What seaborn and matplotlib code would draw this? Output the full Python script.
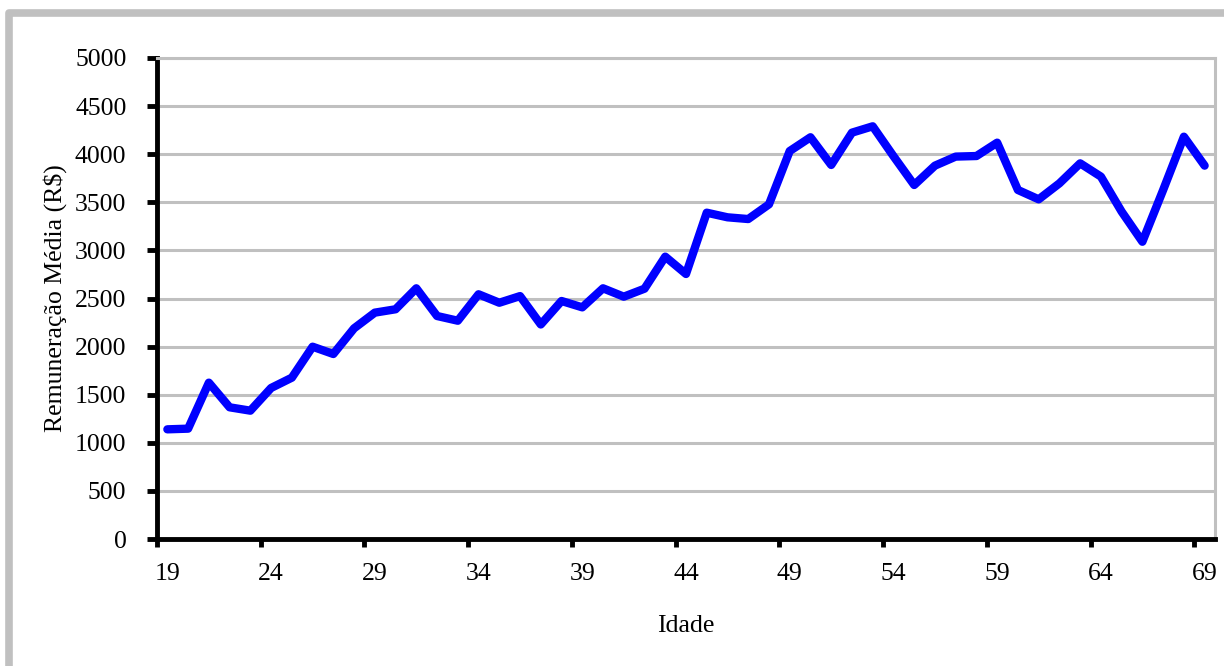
import seaborn as sns
import matplotlib.pyplot as plt
from matplotlib.patches import Rectangle
import numpy as np

idade = list(range(19, 70))
remuneracao = [1140, 1147, 1625, 1369, 1334, 1570, 1677, 1999, 1923, 2190,
               2353, 2388, 2606, 2318, 2269, 2544, 2456, 2525, 2230, 2474,
               2408, 2606, 2519, 2602, 2935, 2755, 3392, 3344, 3326, 3479,
               4033, 4176, 3888, 4224, 4290, 3980, 3680, 3881, 3975, 3981,
               4120, 3628, 3531, 3697, 3905, 3767, 3403, 3090, 3628, 4182,
               3881]
x_labels = [19, 24, 29, 34, 39, 44, 49, 54, 59, 64, 69]
y_ticks = list(range(0, 5001, 500))

sns.set_style("white")
plt.rcParams['font.family'] = ['Liberation Serif', 'DejaVu Serif']
plt.rcParams['text.color'] = 'black'
plt.rcParams['axes.labelcolor'] = 'black'
plt.rcParams['xtick.color'] = 'black'
plt.rcParams['ytick.color'] = 'black'
FS = 18.5
GRAY = "#c0c0c0"

fig = plt.figure(figsize=(12.24, 6.66), dpi=100)

# outer chart frame (cut off at right and bottom)
fig.patches.append(Rectangle((8.5 / 1224, -0.1), 1.2, 1 - 12.5 / 666 + 0.1,
                             transform=fig.transFigure, fill=False,
                             edgecolor=GRAY, lw=5.5, joinstyle='round'))

ax = fig.add_axes([157 / 1224, 1 - 539 / 666, (1215 - 157) / 1224, (539 - 58) / 666])
sns.lineplot(x=idade, y=remuneracao, ax=ax, color="#0000ff", lw=6,
             solid_capstyle='round', solid_joinstyle='round')

ax.set_xlim(18.5, 69.5)
ax.set_ylim(0, 5000)

# category-style axis: tick marks between categories, labels on categories
ax.set_xticks(np.arange(18.5, 69, 5))
ax.set_xticklabels([])
ax.set_xticks(x_labels, minor=True)
ax.set_xticklabels([str(v) for v in x_labels], minor=True, fontsize=FS)
ax.tick_params(axis='x', which='major', bottom=True, direction='out',
               length=6, width=3.5, color='black')
ax.tick_params(axis='x', which='minor', bottom=True, length=0, pad=17)

ax.set_yticks(y_ticks)
ax.set_yticklabels([str(v) for v in y_ticks], fontsize=FS)
ax.tick_params(axis='y', left=True, direction='out', length=7, width=3.5,
               color='black', pad=15)

ax.yaxis.grid(True, color=GRAY, lw=2.2)
ax.set_axisbelow(True)

for side in ['left', 'bottom']:
    ax.spines[side].set_color('black')
    ax.spines[side].set_linewidth(3.5)
for side in ['top', 'right']:
    ax.spines[side].set_color(GRAY)
    ax.spines[side].set_linewidth(2.2)
    ax.spines[side].set_visible(True)

ax.set_xlabel("Idade", fontsize=FS, labelpad=22)
ax.set_ylabel("Remuneração Média (R$)", fontsize=FS, labelpad=6)

fig.savefig("out.png", dpi=100)
